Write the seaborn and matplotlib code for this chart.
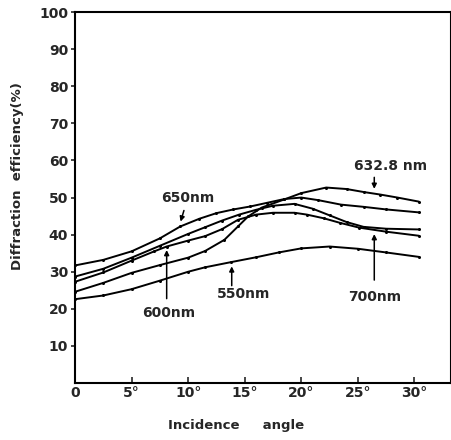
import pandas as pd
import matplotlib
matplotlib.use("Agg")
import matplotlib.pyplot as plt
import seaborn as sns

# Values (diffraction efficiency vs incidence angle)
angle_550 = [0, 2.5, 5, 7.5, 10, 11.5, 13.8, 16, 18, 20, 22.5, 25, 27.5, 30.4]
eff_550 = [22.6, 23.6, 25.3, 27.6, 30.0, 31.2, 32.6, 33.9, 35.2, 36.3, 36.8, 36.2, 35.2, 34.0]

angle_600 = [0, 2.5, 5, 7, 8.1, 10, 11.5, 13, 14.4, 16, 17.5, 19.4, 20.5, 22, 23.4, 25.1, 27.5, 30.4]
eff_600 = [27.3, 29.8, 33.0, 35.5, 36.8, 38.4, 39.6, 41.5, 44.0, 45.4, 45.9, 45.9, 45.4, 44.4, 43.2, 41.9, 40.8, 39.7]

angle_6328 = [0, 2.5, 5, 7.5, 10, 11.5, 13.2, 14.4, 15.3, 16.5, 18.5, 20, 22.2, 24, 25.5, 27, 28.5, 30.4]
eff_6328 = [24.6, 27.0, 29.7, 31.8, 33.8, 35.6, 38.6, 42.2, 44.9, 47.3, 49.5, 51.2, 52.7, 52.3, 51.5, 50.8, 50.0, 48.9]

angle_650 = [0, 2.5, 5, 7.5, 9.3, 11, 12.5, 14, 15.5, 17, 18.5, 20, 21.5, 23.5, 25.5, 27.5, 30.4]
eff_650 = [31.7, 33.2, 35.5, 39.0, 42.2, 44.3, 45.8, 46.8, 47.6, 48.6, 49.6, 50.0, 49.3, 48.1, 47.5, 46.8, 46.0]

angle_700 = [0, 2.5, 5, 7.5, 10, 11.5, 13, 14.5, 16, 17.5, 19.4, 21, 22.5, 24, 25.5, 27.5, 30.4]
eff_700 = [28.7, 30.8, 33.8, 37.0, 40.2, 42.0, 43.8, 45.4, 46.7, 47.8, 48.3, 47.0, 45.2, 43.4, 42.1, 41.6, 41.4]

y_ticks = [10, 20, 30, 40, 50, 60, 70, 80, 90, 100]
x_ticks = [0, 5, 10, 15, 20, 25, 30]
x_tick_labels = ["0", "5°", "10°", "15°", "20°", "25°", "30°"]

# long table for seaborn
frames = []
for name, a, e in [("550nm", angle_550, eff_550), ("600nm", angle_600, eff_600),
                   ("632.8 nm", angle_6328, eff_6328), ("650nm", angle_650, eff_650),
                   ("700nm", angle_700, eff_700)]:
    frames.append(pd.DataFrame({"angle": a, "efficiency": e, "wavelength": name}))
df = pd.concat(frames, ignore_index=True)

sns.set_style("ticks")
plt.rcParams["font.family"] = ["DejaVu Sans"]
plt.rcParams["font.weight"] = "bold"

fig = plt.figure(figsize=(4.52, 4.40), dpi=100)
ax = fig.add_axes([0.166, 0.1295, 0.831, 0.843])

sns.lineplot(data=df, x="angle", y="efficiency", hue="wavelength",
             palette=["black"] * 5, legend=False, sort=False, estimator=None,
             marker="o", markersize=2.2, markeredgewidth=0, linewidth=1.4, ax=ax)

ax.set_xlim(0, 33.2)
ax.set_ylim(0, 100)
ax.set_yticks(y_ticks)
ax.set_yticklabels([str(v) for v in y_ticks], fontsize=10, fontweight="bold")
ax.set_xticks(x_ticks)
ax.set_xticklabels(x_tick_labels, fontsize=10, fontweight="bold")
ax.tick_params(axis="x", direction="in", length=4, width=1.2, pad=2)
ax.tick_params(axis="y", direction="out", length=3, width=1.2, pad=2)
for s in ax.spines.values():
    s.set_linewidth(1.5)
    s.set_color("black")

ax.set_xlabel("Incidence     angle", fontsize=9.5, fontweight="bold")
ax.set_ylabel("Diffraction  efficiency(%)", fontsize=9.5, fontweight="bold")
ax.xaxis.set_label_coords(0.43, -0.098)
ax.yaxis.set_label_coords(-0.135, 0.558)

# wavelength labels with arrows
arrow = dict(arrowstyle="-|>", color="black", lw=1.1, mutation_scale=7)
ax.annotate("650nm", xy=(9.26, 42.8), xytext=(9.97, 50.0), ha="center", va="center",
            fontsize=10, fontweight="bold", arrowprops=arrow)
ax.annotate("", xy=(8.1, 36.6), xytext=(8.1, 22.0), arrowprops=arrow)
ax.text(8.3, 18.9, "600nm", ha="center", va="center", fontsize=10, fontweight="bold")
ax.annotate("", xy=(13.85, 32.2), xytext=(13.85, 25.5), arrowprops=arrow)
ax.text(14.9, 24.0, "550nm", ha="center", va="center", fontsize=10, fontweight="bold")
ax.annotate("", xy=(26.45, 40.9), xytext=(26.45, 27.0), arrowprops=arrow)
ax.text(26.5, 23.2, "700nm", ha="center", va="center", fontsize=10, fontweight="bold")
ax.annotate("", xy=(26.45, 51.6), xytext=(26.45, 56.2), arrowprops=arrow)
ax.text(27.9, 58.6, "632.8 nm", ha="center", va="center", fontsize=10, fontweight="bold")

fig.savefig("out.png", dpi=100)
